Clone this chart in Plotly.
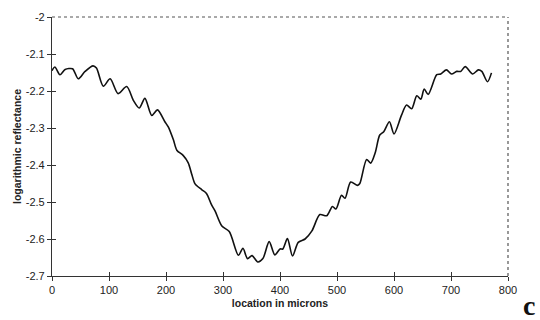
import plotly.graph_objects as go

location = [0, 5, 14, 23, 36, 46, 58, 72, 78, 90, 102, 116, 131, 143, 153, 163, 175, 185,
            198, 204, 213, 219, 230, 239, 245, 251, 263, 271, 280, 286, 298, 311, 327, 335,
            343, 351, 361, 370, 381, 391, 400, 405, 413, 422, 432, 444, 456, 470, 482, 492,
            498, 508, 514, 524, 536, 540, 552, 559, 567, 575, 582, 592, 600, 613, 622, 631,
            640, 647, 653, 660, 675, 682, 692, 701, 710, 717, 725, 738, 748, 754, 764, 771]
log_refl = [-2.145, -2.135, -2.156, -2.142, -2.140, -2.167, -2.147, -2.132, -2.138, -2.187,
            -2.167, -2.207, -2.188, -2.226, -2.246, -2.220, -2.266, -2.251, -2.283, -2.297,
            -2.332, -2.360, -2.374, -2.394, -2.424, -2.451, -2.467, -2.477, -2.508, -2.524,
            -2.565, -2.580, -2.644, -2.625, -2.653, -2.645, -2.662, -2.653, -2.607, -2.643,
            -2.627, -2.627, -2.599, -2.646, -2.609, -2.600, -2.578, -2.534, -2.537, -2.512,
            -2.519, -2.482, -2.490, -2.446, -2.455, -2.450, -2.385, -2.395, -2.367, -2.319,
            -2.310, -2.283, -2.316, -2.266, -2.238, -2.248, -2.213, -2.222, -2.195, -2.209,
            -2.156, -2.154, -2.143, -2.154, -2.147, -2.147, -2.134, -2.154, -2.143, -2.147,
            -2.175, -2.151]

x_ticks = [0, 100, 200, 300, 400, 500, 600, 700, 800]
y_ticks = [-2.7, -2.6, -2.5, -2.4, -2.3, -2.2, -2.1, -2.0]
y_tick_labels = ["-2.7", "-2.6", "-2.5", "-2.4", "-2.3", "-2.2", "-2.1", "-2"]

font_sans = "Liberation Sans, Arial, sans-serif"

fig = go.Figure()
fig.add_trace(go.Scatter(x=location, y=log_refl, mode="lines",
                         line=dict(color="#111111", width=1.6, shape="spline", smoothing=0.8),
                         showlegend=False, hoverinfo="skip"))
# invisible trace to drive overlay axes (crossing ticks)
fig.add_trace(go.Scatter(x=[location[0]], y=[log_refl[0]], xaxis="x2", yaxis="y2",
                         mode="markers", marker=dict(opacity=0), showlegend=False, hoverinfo="skip"))

axis_common = dict(showgrid=False, zeroline=False, linecolor="#333333", linewidth=1.2,
                   tickcolor="#333333", tickwidth=1, ticklen=4,
                   tickfont=dict(family=font_sans, size=11, color="#222222"))

fig.update_layout(
    width=540, height=320,
    margin=dict(l=52, r=32, t=11, b=44),
    paper_bgcolor="white", plot_bgcolor="white",
    xaxis=dict(range=[0, 800], tickvals=x_ticks, ticks="outside", showline=True,
               title=dict(text="<b>location in microns</b>", standoff=4,
                          font=dict(family=font_sans, size=10.5, color="#222222")),
               **axis_common),
    yaxis=dict(range=[-2.7, -2.0], tickvals=y_ticks, ticktext=y_tick_labels, ticks="outside",
               showline=True,
               title=dict(text="<b>logarithmic reflectance</b>", standoff=2,
                          font=dict(family=font_sans, size=10.5, color="#222222")),
               **axis_common),
    xaxis2=dict(range=[0, 800], tickvals=x_ticks, ticks="inside", showticklabels=False,
                overlaying="x", showgrid=False, zeroline=False, showline=False,
                tickcolor="#333333", ticklen=4, anchor="y"),
    yaxis2=dict(range=[-2.7, -2.0], tickvals=y_ticks, ticks="inside", showticklabels=False,
                overlaying="y", showgrid=False, zeroline=False, showline=False,
                tickcolor="#333333", ticklen=4, anchor="x"),
    shapes=[
        dict(type="line", xref="paper", yref="paper", x0=0, x1=1, y0=1, y1=1,
             line=dict(color="#555555", width=1.2, dash="dot")),
        dict(type="line", xref="paper", yref="paper", x0=1, x1=1, y0=0, y1=1,
             line=dict(color="#555555", width=1.2, dash="dot")),
    ],
    annotations=[
        dict(text="<b>c</b>", xref="paper", yref="paper", x=1.064, y=-0.045,
             xanchor="right", yanchor="top", showarrow=False,
             font=dict(family="Liberation Serif, Times New Roman, serif", size=28, color="#111111")),
    ],
)

fig.write_html("out.html")
